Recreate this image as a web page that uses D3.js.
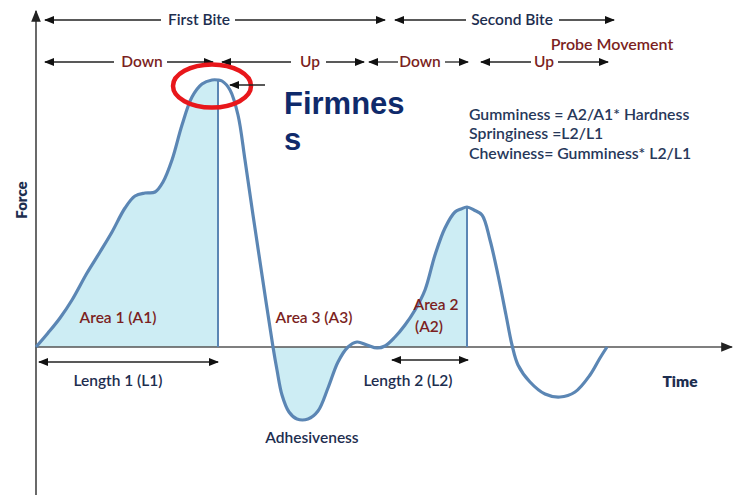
<!DOCTYPE html>
<html><head><meta charset="utf-8">
<script src="https://cdn.jsdelivr.net/npm/d3@7"></script>
<style>body{margin:0;background:#fff}svg{display:block}</style>
</head><body>
<svg id="c" width="734" height="495"></svg>
<script>
// Time (s) and force (arbitrary units)
const time = [0,1.2,2.4,3.6,5.1,6.4,7.6,8.9,9.9,10.9,11.9,12.7,13.6,14.6,15.6,16.6,17.6,18.2,18.6,19.4,20.2,20.9,21.7,22.6,23.7,24.1,24.6,25.3,26.1,27.2,28.2,29.2,30.2,31.2,32.1,33.1,34.1,34.9,35.9,36.9,37.9,38.9,39.9,40.9,41.9,42.5,43.1,43.8,44.6,45.4,46.2,47.0,47.6,48.2,49.4,50.9,52.4,53.9,55.4,56.4,57.1];
const force = [0,2.8,5.8,9.4,14.8,19.0,23.0,27.8,30.2,30.8,31.0,33.0,37.4,44.4,50.0,52.6,53.4,53.4,53.2,51.4,46.4,37.4,26.4,14.4,0,-4.6,-9.6,-13.0,-14.4,-14.4,-12.8,-8.2,-3.0,0,1.0,0.4,-0.2,0.2,2.0,4.4,7.4,11.4,18.4,23.8,27.0,27.6,28.0,27.4,26.4,21.4,14.4,6.4,0.4,-3.6,-7.0,-9.4,-10.0,-9.0,-5.6,-2.2,0];
const fillA1 = [0, 18.2];    // Area 1 span (time)
const fillA3 = [23.7, 31.2]; // Area 3 span
const fillA2 = [34.9, 43.1]; // Area 2 span
const formulas = ["Gumminess = A2/A1* Hardness","Springiness =L2/L1","Chewiness= Gumminess* L2/L1"];

const pts = time.map((t,i)=>({t, f: force[i]}));
const svg = d3.select("#c");
const x = d3.scaleLinear().domain([0, 69.6]).range([36, 732]);
const y = d3.scaleLinear().domain([-29.6, 67.8]).range([495, 8]);

const defs = svg.append("defs");
function marker(id, color, size){
  defs.append("marker").attr("id", id).attr("viewBox","0 0 10 10").attr("refX",9).attr("refY",5)
    .attr("markerWidth",size).attr("markerHeight",size).attr("orient","auto-start-reverse").attr("markerUnits","userSpaceOnUse")
    .append("path").attr("d","M0,1 L10,5 L0,9 Z").attr("fill",color);
}
marker("ah","#111",10);
marker("ax","#222",12);

const curve = d3.curveCatmullRom.alpha(0.5);
const area = d3.area().x(d=>x(d.t)).y0(y(0)).y1(d=>y(d.f)).curve(curve);
[fillA1, fillA3, fillA2].forEach(s=>{
  svg.append("path").datum(pts.filter(p=>p.t>=s[0]-1e-6 && p.t<=s[1]+1e-6))
    .attr("d", area).attr("fill","#cdedf4");
});

// axes
svg.append("line").attr("x1",x(0)).attr("x2",x(69.6)).attr("y1",y(0)).attr("y2",y(0))
  .attr("stroke","#555").attr("stroke-width",1.6).attr("marker-end","url(#ax)");
svg.append("line").attr("x1",x(0)).attr("x2",x(0)).attr("y1",495).attr("y2",y(67.2))
  .attr("stroke","#444").attr("stroke-width",1.6).attr("marker-end","url(#ax)");

// vertical separators
[fillA1[1], fillA2[1]].forEach(t=>{
  const p = pts.find(d=>Math.abs(d.t-t)<1e-6);
  svg.append("line").attr("x1",x(t)).attr("x2",x(t)).attr("y1",y(0)).attr("y2",y(p.f))
    .attr("stroke","#5b86b4").attr("stroke-width",2);
});

// curve
svg.append("path").datum(pts).attr("d", d3.line().x(d=>x(d.t)).y(d=>y(d.f)).curve(curve))
  .attr("fill","none").attr("stroke","#5b86b4").attr("stroke-width",3.2).attr("stroke-linejoin","round");

const font = "Lato, 'Open Sans', sans-serif";
const navy = "#1d2e4f", maroon = "#7b1f22";
const FS = 15.5;
function txt(s, px, py, opt={}){
  return svg.append("text").attr("x",px).attr("y",py).text(s)
    .attr("font-family", opt.family || font).attr("font-size", opt.size || FS)
    .attr("font-weight", opt.weight || 600).attr("fill", opt.color || navy)
    .attr("text-anchor", opt.anchor || "start");
}
function arrow(x1, x2, yy, both){
  const l = svg.append("line").attr("x1",x1).attr("x2",x2).attr("y1",yy).attr("y2",yy)
    .attr("stroke","#222").attr("stroke-width",1.3);
  if (both==="start" || both==="both") l.attr("marker-start","url(#ah)");
  if (both==="end" || both==="both") l.attr("marker-end","url(#ah)");
}

// top bite arrows
arrow(45,161,20,"start"); txt("First Bite",199,25,{anchor:"middle"});
arrow(235,385,20,"end");
arrow(395,466,20,"start"); txt("Second Bite",512,25,{anchor:"middle"});
arrow(559,614,20,"end");

arrow(45,114,62,"start"); txt("Down",142,67,{anchor:"middle",color:maroon});
arrow(167,213,62,"end");
arrow(222,291,62,"start"); txt("Up",310,67,{anchor:"middle",color:maroon});
arrow(326,364,62,"end");
arrow(369,398,62,"start"); txt("Down",420,67,{anchor:"middle",color:maroon});
arrow(445,468,62,"end");
arrow(481,531,62,"start"); txt("Up",544,67,{anchor:"middle",color:maroon});
arrow(558,608,62,"end");

txt("Probe Movement",612,50,{anchor:"middle",color:maroon,size:16});

// firmness annotation
svg.append("ellipse").attr("cx",212).attr("cy",86).attr("rx",39).attr("ry",21.5)
  .attr("fill","none").attr("stroke","#e8171b").attr("stroke-width",4.5);
arrow(265,230,85,"end");
txt("Firmnes",284,114,{family:"'Liberation Sans', Arial, sans-serif",size:31,weight:700,color:"#0f2a6b"});
txt("s",284,150,{family:"'Liberation Sans', Arial, sans-serif",size:31,weight:700,color:"#0f2a6b"});

formulas.forEach((f,i)=> txt(f,469,[120,139,159][i],{size:15.8,color:"#27385a"}));

// axis titles
svg.append("text").attr("transform","translate(27,200) rotate(-90)").text("Force")
  .attr("font-family",font).attr("font-size",15).attr("font-weight",800).attr("fill",navy).attr("text-anchor","middle");
txt("Time",680,387,{anchor:"middle",weight:800});

// area labels
txt("Area 1 (A1)",118,323,{anchor:"middle",color:maroon});
txt("Area 3 (A3)",314,323,{anchor:"middle",color:maroon});
txt("Area 2",436,310,{anchor:"middle",color:maroon});
txt("(A2)",429,332,{anchor:"middle",color:maroon});

// lengths
arrow(39,218,362,"both"); txt("Length 1 (L1)",118,386,{anchor:"middle"});
arrow(392,468,360,"both"); txt("Length 2 (L2)",408,386,{anchor:"middle"});
txt("Adhesiveness",312,443,{anchor:"middle"});
</script>
</body></html>
